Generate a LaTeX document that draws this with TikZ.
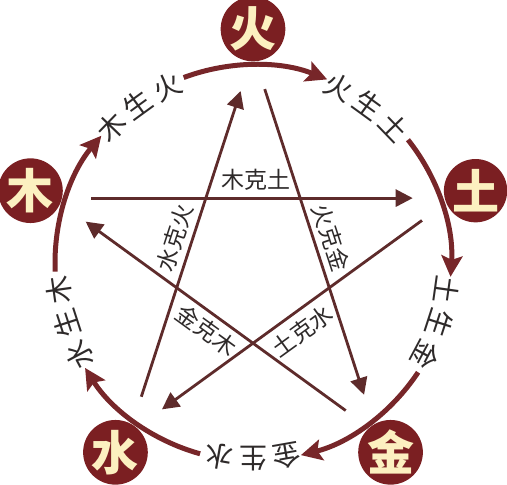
\documentclass[tikz,border=0pt]{standalone}
\usepackage{fontspec}
\newfontfamily\cjk{Noto Sans CJK SC}
\usetikzlibrary{arrows.meta}
\definecolor{elemfill}{HTML}{7B1F22}
\definecolor{elemtext}{HTML}{FCF0C0}
\definecolor{arccol}{HTML}{772629}
\definecolor{starcol}{HTML}{5E2B2B}
\definecolor{labcol}{HTML}{2E2A2A}
\begin{document}
\begin{tikzpicture}[x=1pt,y=1pt,
  elem/.style={circle, fill=elemfill, minimum size=57pt, inner sep=0pt, text=elemtext, font=\cjk\bfseries\fontsize{47}{47}\selectfont},
  arcline/.style={draw=arccol, line width=5pt, -{Stealth[length=21pt, width=21pt, inset=4pt]}},
  starline/.style={draw=starcol, line width=2.8pt, -{Triangle[length=17pt, width=17pt]}, shorten <=38pt, shorten >=40pt},
  arclab/.style={text=labcol, font=\cjk\fontsize{28}{28}\selectfont, inner sep=0pt},
  starlab/.style={text=labcol, font=\cjk\fontsize{23}{23}\selectfont, inner sep=0pt},
]
\useasboundingbox (0,0) rectangle (507,485);
\coordinate (C) at (253,222);
% element circles
\node[elem] (huo) at ([shift={(90:234)}]C) {火};
\node[elem] (mu) at ([shift={(162:234)}]C) {木};
\node[elem] (tu) at ([shift={(18:234)}]C) {土};
\node[elem] (shui) at ([shift={(234:234)}]C) {水};
\node[elem] (jin) at ([shift={(306:234)}]C) {金};
% pentagram vertices
\coordinate (vhuo) at ([shift={(90:210)}]C);
\coordinate (vmu) at ([shift={(162:210)}]C);
\coordinate (vtu) at ([shift={(18:210)}]C);
\coordinate (vshui) at ([shift={(234:210)}]C);
\coordinate (vjin) at ([shift={(306:210)}]C);
% star lines (ke cycle)
\draw[starline] (vmu) -- (vtu);
\draw[starline] (vtu) -- (vshui);
\draw[starline] (vshui) -- (vhuo);
\draw[starline] (vhuo) -- (vjin);
\draw[starline] (vjin) -- (vmu);
% star labels
\node[starlab] (lmutu) at (256,305) {木克土};
\node[starlab, rotate=72] (lshuihuo) at (175,247.5) {水克火};
\node[starlab, rotate=-72] (lhuojin) at (331,247.5) {火克金};
\node[starlab, rotate=-36] (ljinmu) at (206.5,154.5) {金克木};
\node[starlab, rotate=36] (ltushui) at (302.5,154) {土克水};
% sheng cycle arcs
\foreach \t in {162,90,18,306,234}{
  \draw[arcline] ([shift={(\t+20.5:198)}]C) arc[start angle=\t+20.5, end angle=\t-22, radius=198];
}
% arc labels
\foreach \a/\c/\n in {136/木/a1, 126/生/a2, 116/火/a3,
                      64/火/b1, 54/生/b2, 44/土/b3,
                      352/土/c1, 342/生/c2, 332/金/c3,
                      280/金/d1, 270/生/d2, 260/水/d3,
                      208/水/e1, 198/生/e2, 188/木/e3}{
  \node[arclab, rotate=\a-90] (\n) at ([shift={(\a:196)}]C) {\c};
}
\end{tikzpicture}
\end{document}
